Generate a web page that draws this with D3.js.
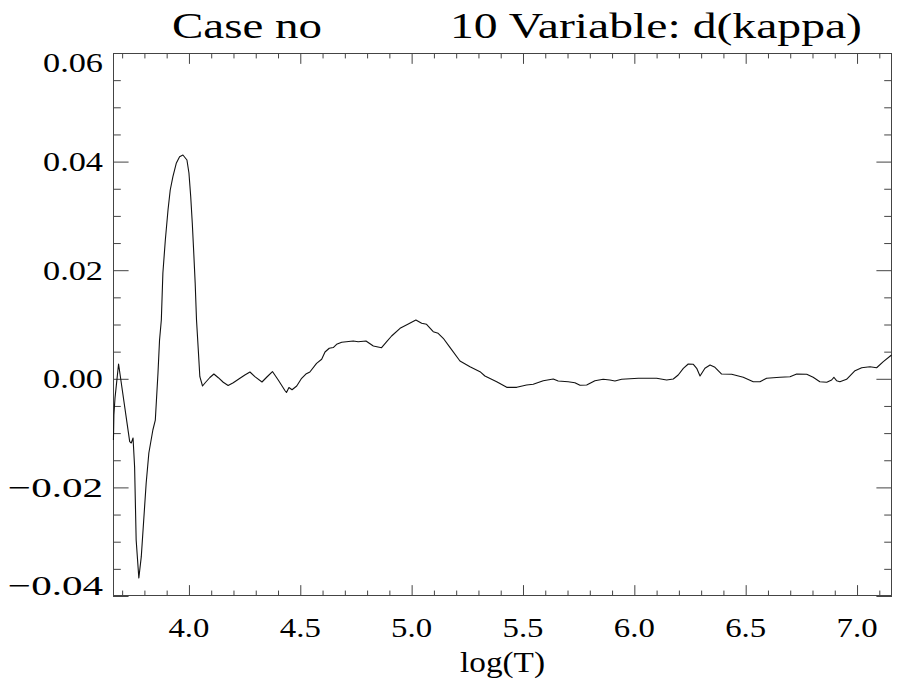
<!DOCTYPE html>
<html><head><meta charset="utf-8">
<script src="https://cdn.jsdelivr.net/npm/d3@7"></script>
<style>body{margin:0;background:#fff} svg{display:block}</style>
</head><body><svg id="c" width="899" height="680"></svg>
<script>
const logT = [3.661,3.663,3.668,3.684,3.734,3.741,3.749,3.756,3.763,3.775,3.786,3.808,3.820,3.838,3.849,3.861,3.868,3.876,3.883,3.894,3.906,3.916,3.928,3.943,3.958,3.973,3.991,4.000,4.008,4.015,4.021,4.028,4.034,4.042,4.049,4.061,4.074,4.094,4.112,4.132,4.154,4.176,4.199,4.229,4.251,4.274,4.296,4.328,4.350,4.375,4.401,4.431,4.438,4.449,4.463,4.484,4.506,4.525,4.543,4.573,4.596,4.611,4.630,4.648,4.663,4.686,4.738,4.760,4.795,4.828,4.865,4.888,4.910,4.948,4.985,5.019,5.045,5.067,5.097,5.119,5.142,5.172,5.217,5.262,5.307,5.329,5.382,5.427,5.472,5.516,5.546,5.591,5.636,5.658,5.703,5.733,5.756,5.786,5.823,5.860,5.890,5.913,5.943,6.018,6.100,6.145,6.175,6.197,6.220,6.242,6.265,6.280,6.295,6.317,6.340,6.362,6.392,6.437,6.489,6.534,6.564,6.594,6.654,6.699,6.729,6.774,6.803,6.833,6.864,6.886,6.896,6.908,6.923,6.953,6.991,7.021,7.058,7.088,7.118,7.155];
const dKappa = [-0.01127,-0.00667,-0.00354,0.00273,-0.01158,-0.01182,-0.01090,-0.01619,-0.02969,-0.03668,-0.03276,-0.01919,-0.01366,-0.00943,-0.00759,0.00107,0.00715,0.01083,0.01948,0.02556,0.03109,0.03477,0.03722,0.03969,0.04090,0.04121,0.04029,0.03790,0.03354,0.02869,0.02372,0.01764,0.01083,0.00530,0.00039,-0.00133,-0.00068,0.00024,0.00088,0.00020,-0.00064,-0.00123,-0.00074,0.00009,0.00070,0.00125,0.00039,-0.00059,0.00033,0.00134,-0.00022,-0.00215,-0.00252,-0.00160,-0.00201,-0.00133,0.00009,0.00088,0.00125,0.00285,0.00359,0.00494,0.00562,0.00576,0.00635,0.00672,0.00696,0.00683,0.00696,0.00604,0.00573,0.00683,0.00788,0.00930,0.01009,0.01083,0.01022,0.01004,0.00867,0.00838,0.00746,0.00580,0.00328,0.00223,0.00131,0.00052,-0.00053,-0.00157,-0.00157,-0.00114,-0.00101,-0.00035,-0.00004,-0.00041,-0.00053,-0.00072,-0.00120,-0.00114,-0.00035,-0.00009,-0.00022,-0.00041,-0.00009,0.00009,0.00009,-0.00022,-0.00004,0.00070,0.00193,0.00273,0.00267,0.00193,0.00052,0.00193,0.00254,0.00212,0.00088,0.00083,0.00028,-0.00053,-0.00053,0.00009,0.00028,0.00039,0.00088,0.00083,0.00028,-0.00053,-0.00064,-0.00022,0.00028,-0.00035,-0.00053,-0.00009,0.00149,0.00204,0.00223,0.00204,0.00315,0.00438];

const xMajorTicks = [4.0,4.5,5.0,5.5,6.0,6.5,7.0];
const xTickLabels = ["4.0","4.5","5.0","5.5","6.0","6.5","7.0"];
const yMajorTicks = [0.06,0.04,0.02,0.00,-0.02,-0.04];
const yTickLabels = ["0.06","0.04","0.02","0.00","\u22120.02","\u22120.04"];
const titleLeft = "Case no";
const titleRight = "10 Variable: d(kappa)";
const xTitle = "log(T)";

const L = 113, R = 892, T = 53, B = 596;
const x = d3.scaleLinear().domain([3.659, 7.157]).range([L, R]);
const y = d3.scaleLinear().domain([-0.04, 0.06]).range([B, T]);

const svg = d3.select("#c");
const font = "'Liberation Serif', 'Times New Roman', serif";

const xMinor = d3.range(37, 72).map(v => v/10).filter(v => Math.abs(v*2 - Math.round(v*2)) > 1e-6);
const yMinor = d3.range(-8, 13).map(v => v*0.005).filter(v => Math.abs(v/0.02 - Math.round(v/0.02)) > 1e-6);

const xLen = 0.02*(B-T), yLen = 0.02*(R-L);
const tickColor = "#444";

function addAxis(axis, tx, ty) {
  const g = svg.append("g").attr("transform", `translate(${tx},${ty})`).call(axis);
  g.select(".domain").remove();
  g.selectAll("line").attr("stroke", tickColor).attr("stroke-width", 1);
  g.selectAll("text").remove();
}
// major and minor ticks, on all four sides, pointing inward
addAxis(d3.axisBottom(x).tickValues(xMajorTicks).tickSizeInner(-xLen).tickSizeOuter(0), 0, B);
addAxis(d3.axisBottom(x).tickValues(xMinor).tickSizeInner(-xLen/2).tickSizeOuter(0), 0, B);
addAxis(d3.axisTop(x).tickValues(xMajorTicks).tickSizeInner(-xLen).tickSizeOuter(0), 0, T);
addAxis(d3.axisTop(x).tickValues(xMinor).tickSizeInner(-xLen/2).tickSizeOuter(0), 0, T);
addAxis(d3.axisLeft(y).tickValues(yMajorTicks).tickSizeInner(-yLen).tickSizeOuter(0), L, 0);
addAxis(d3.axisLeft(y).tickValues(yMinor).tickSizeInner(-yLen/2).tickSizeOuter(0), L, 0);
addAxis(d3.axisRight(y).tickValues(yMajorTicks).tickSizeInner(-yLen).tickSizeOuter(0), R, 0);
addAxis(d3.axisRight(y).tickValues(yMinor).tickSizeInner(-yLen/2).tickSizeOuter(0), R, 0);

svg.append("rect").attr("x", L+0.5).attr("y", T+0.5).attr("width", R-L-1).attr("height", B-T-1)
  .attr("fill", "none").attr("stroke", tickColor).attr("stroke-width", 1);

// curve
const pts = logT.map((t, i) => [t, dKappa[i]]);
svg.append("path").datum(pts)
  .attr("d", d3.line().x(d => x(d[0])).y(d => y(d[1])))
  .attr("fill", "none").attr("stroke", "#111").attr("stroke-width", 1.1).attr("stroke-linejoin", "round");

// x tick labels
svg.append("g").selectAll("text").data(xMajorTicks).join("text")
  .attr("x", d => x(d)).attr("y", 637).attr("text-anchor", "middle")
  .attr("font-family", font).attr("font-size", 28).attr("fill", "#000")
  .attr("textLength", 41).attr("lengthAdjust", "spacingAndGlyphs")
  .text((d, i) => xTickLabels[i]);

// y tick labels
svg.append("g").selectAll("text").data(yMajorTicks).join("text")
  .attr("x", 103)
  .attr("y", (d, i) => {
    const yy = y(d) + 9.5;
    return Math.min(Math.max(yy, T + 19), B - 1);
  })
  .attr("text-anchor", "end")
  .attr("font-family", font).attr("font-size", 28).attr("fill", "#000")
  .attr("textLength", (d, i) => yTickLabels[i].length > 4 ? 95 : 60)
  .attr("lengthAdjust", "spacingAndGlyphs")
  .text((d, i) => yTickLabels[i]);

// titles
svg.append("text").attr("x", 172).attr("y", 38).attr("font-family", font).attr("font-size", 36)
  .attr("textLength", 150).attr("lengthAdjust", "spacingAndGlyphs").text(titleLeft);
svg.append("text").attr("x", 450).attr("y", 38).attr("font-family", font).attr("font-size", 36)
  .attr("textLength", 412).attr("lengthAdjust", "spacingAndGlyphs").text(titleRight);
svg.append("text").attr("x", (L+R)/2).attr("y", 672).attr("text-anchor", "middle")
  .attr("font-family", font).attr("font-size", 29)
  .attr("textLength", 85).attr("lengthAdjust", "spacingAndGlyphs").text(xTitle);
</script>
</body></html>
